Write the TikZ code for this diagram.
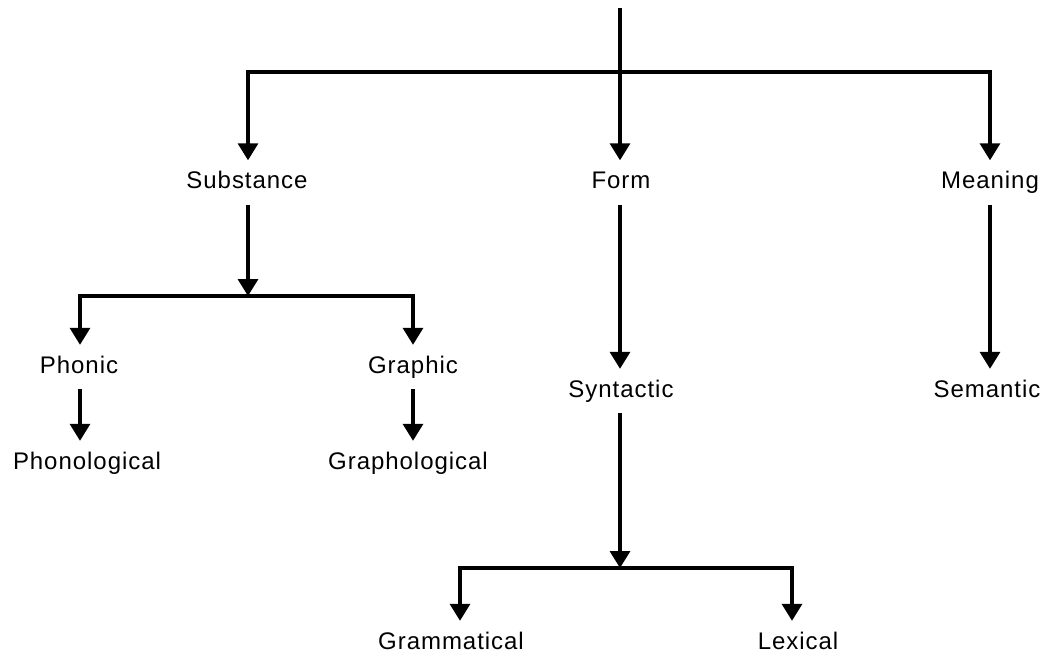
\documentclass[tikz,border=0pt]{standalone}
\usepackage{fontspec}
\setmainfont{Liberation Sans}[LetterSpace=4]
\usetikzlibrary{arrows.meta}
\begin{document}
\begin{tikzpicture}[x=1pt,y=-1pt,
  lbl/.style={font=\fontsize{24}{28}\selectfont, inner sep=0pt, outer xsep=0pt, outer ysep=11pt,
              text height=17.2pt, text depth=5pt, anchor=base},
  conn/.style={line width=3.3pt, line join=miter, -{Triangle[width=20pt,length=17pt]}},
  bar/.style={line width=3.3pt, line join=miter}]
\useasboundingbox (0,0) rectangle (1045,657);
% nodes
\node[lbl] (sub) at (247,188.5) {Substance};
\node[lbl] (form) at (621,188.5) {Form};
\node[lbl] (mean) at (990,188.5) {Meaning};
\node[lbl] (phon) at (79,373) {Phonic};
\node[lbl] (graph) at (413,373) {Graphic};
\node[lbl] (phonol) at (87,469) {Phonological};
\node[lbl] (grapho) at (408,469) {Graphological};
\node[lbl] (syn) at (621,397) {Syntactic};
\node[lbl] (sem) at (987,397) {Semantic};
\node[lbl] (gram) at (451,649) {Grammatical};
\node[lbl] (lex) at (798,649) {Lexical};
% junctions
\coordinate (top) at (620,8);
\coordinate (j1) at (620,72);
\coordinate (j2) at (248,296);
\coordinate (j3) at (620,568);
% connectors
\draw[conn] (top) -- (form.north -| top);
\draw[conn] (j1) -| ([xshift=1pt]sub.north);
\draw[conn] (j1) -| (mean.north);
\draw[conn] ([xshift=1pt]sub.south) -- (j2);
\draw[conn] (j2) -| ([xshift=1pt]phon.north);
\draw[conn] (j2) -| (graph.north);
\draw[conn] ([xshift=1pt]phon.south) -- ([xshift=-7pt]phonol.north);
\draw[conn] (graph.south) -- ([xshift=5pt]grapho.north);
\draw[conn] (form.south -| top) -- (syn.north -| top);
\draw[conn] (mean.south) -- ([xshift=3pt]sem.north);
\draw[conn] (syn.south -| top) -- (j3);
\draw[conn] (j3) -| ([xshift=9pt]gram.north);
\draw[conn] (j3) -| ([xshift=-6pt]lex.north);
\end{tikzpicture}
\end{document}
